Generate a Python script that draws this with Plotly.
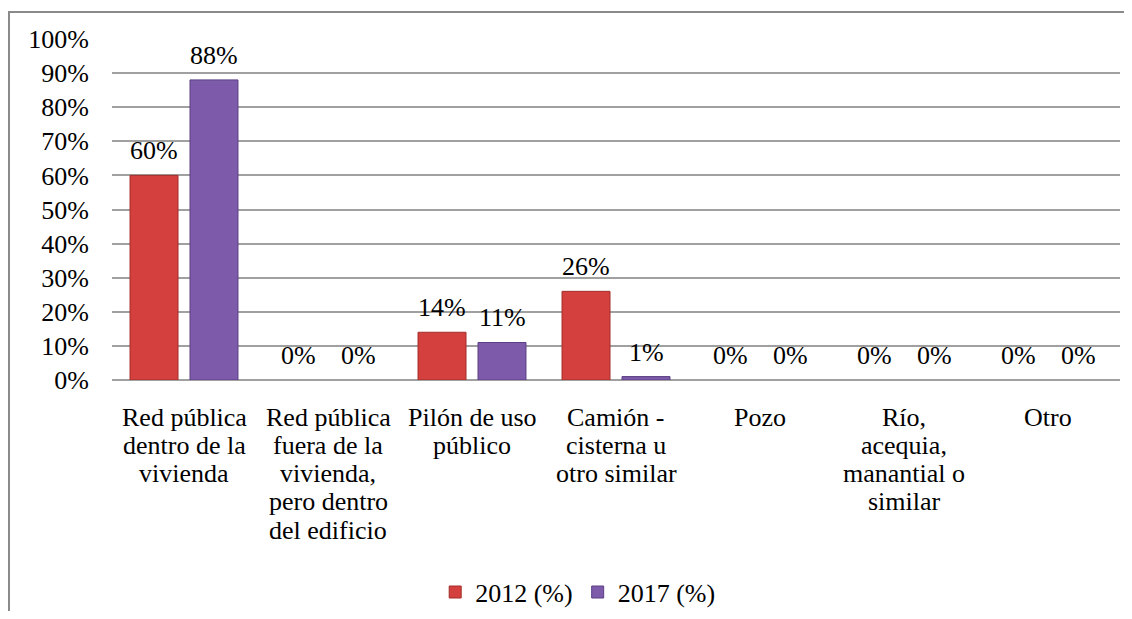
import plotly.graph_objects as go

categories = [
    "Red pública<br>dentro de la<br>vivienda",
    "Red pública<br>fuera de la<br>vivienda,<br>pero dentro<br>del edificio",
    "Pilón de uso<br>público",
    "Camión -<br>cisterna u<br>otro similar",
    "Pozo",
    "Río,<br>acequia,<br>manantial o<br>similar",
    "Otro",
]
series_names = ["2012 (%)", "2017 (%)"]
values_2012 = [60, 0, 14, 26, 0, 0, 0]
values_2017 = [88, 0, 11, 1, 0, 0, 0]
y_ticks = list(range(0, 101, 10))

FONT = "Liberation Serif, Times New Roman, serif"
colors = ["#D4403D", "#7E5BAA"]
line_colors = ["#A32E2B", "#5A3F84"]

fig = go.Figure()
for name, vals, c, lc in zip(series_names, [values_2012, values_2017], colors, line_colors):
    fig.add_trace(go.Bar(
        x=categories, y=vals, name=name,
        marker=dict(color=c, line=dict(color=lc, width=[1 if v > 0 else 0 for v in vals])),
    ))

# data labels
for vals, shift in zip([values_2012, values_2017], [-30, 30]):
    for cat, v in zip(categories, vals):
        fig.add_annotation(
            x=cat, y=v, text=f"{v}%", showarrow=False,
            xshift=shift, yshift=8, yanchor="bottom",
            font=dict(family=FONT, size=26, color="black"),
        )

# category labels (tight line spacing as in the original)
for cat in categories:
    for i, line in enumerate(cat.split("<br>")):
        fig.add_annotation(
            x=cat, y=0, text=line, showarrow=False,
            yanchor="middle", yshift=-(37 + 28.25 * i),
            font=dict(family=FONT, size=26, color="black"),
        )

# outer chart frame
fig.add_shape(type="rect", xref="paper", yref="paper",
              x0=-0.1022, x1=1.05, y0=-0.75, y1=1.0792,
              line=dict(color="#8a8a8a", width=2), layer="below")

fig.update_layout(
    width=1116, height=603,
    margin=dict(l=104, r=4, t=31, b=231, autoexpand=False),
    paper_bgcolor="white", plot_bgcolor="white",
    barmode="group", bargap=0.167, bargroupgap=0.2,
    font=dict(family=FONT, size=24, color="black"),
    showlegend=True,
    legend=dict(orientation="h", x=0.462, xanchor="center", y=-0.622, yanchor="middle",
                font=dict(family=FONT, size=26, color="black"),
                itemwidth=30, tracegroupgap=0),
)
fig.update_yaxes(
    range=[0, 100], tickvals=y_ticks, ticktext=[f"{t}%" for t in y_ticks],
    showgrid=True, gridcolor="#A0A0A0", gridwidth=1.5,
    zeroline=True, zerolinecolor="#A0A0A0", zerolinewidth=1.5,
    showline=False, ticks="", ticklabelstandoff=22, automargin=False,
    tickfont=dict(family=FONT, size=26, color="black"),
)
fig.update_xaxes(
    showline=False, ticks="", showticklabels=False, automargin=False,
)

fig.write_html("out.html")
